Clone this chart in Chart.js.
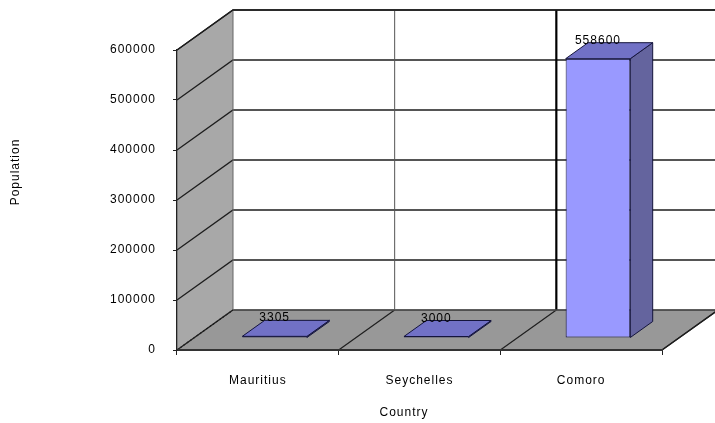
<!DOCTYPE html>
<html>
<head>
<meta charset="utf-8">
<script src="https://cdn.jsdelivr.net/npm/chart.js@4.4.1/dist/chart.umd.min.js"></script>
<style>
  html, body { margin: 0; padding: 0; background: #ffffff; }
  canvas { display: block; }
</style>
</head>
<body>
<canvas id="chart" width="715" height="423"></canvas>
<script>
// Population by country
const countries = ['Mauritius', 'Seychelles', 'Comoro'];
const population = [3305, 3000, 558600];
const populationTicks = [0, 100000, 200000, 300000, 400000, 500000, 600000];
const xTitle = 'Country';
const yTitle = 'Population';

// 3-D room geometry: offset of the back wall from the front plane
const DEPTH_X = 56, DEPTH_Y = -40;
// each bar slab starts 30% into the room and is 40% of its depth
const BAR_FRONT = 0.3, BAR_DEPTH = 0.4;
const FAMILY = '"Liberation Sans", Arial, sans-serif';

const LINE = '#1e1e1e';

function boundaries(chart) {
  const x = chart.scales.x;
  const n = countries.length;
  const cw = (x.right - x.left) / n;
  const out = [];
  for (let i = 0; i < n; i++) out.push(x.getPixelForValue(i) - cw / 2);
  out.push(x.getPixelForValue(n - 1) + cw / 2);
  return out;
}

const room3d = {
  id: 'room3d',
  beforeLayout(chart) { chart.ctx.letterSpacing = '1px'; },
  beforeDraw(chart) {
    const { ctx, chartArea: a, scales: { y } } = chart;
    ctx.letterSpacing = '1px';
    const dx = DEPTH_X, dy = DEPTH_Y;
    const b = boundaries(chart);
    ctx.save();

    // back wall
    ctx.fillStyle = '#ffffff';
    ctx.fillRect(a.left + dx, a.top + dy, a.right - a.left, a.bottom - a.top);

    // left side wall
    ctx.beginPath();
    ctx.moveTo(a.left, a.bottom);
    ctx.lineTo(a.left, a.top);
    ctx.lineTo(a.left + dx, a.top + dy);
    ctx.lineTo(a.left + dx, a.bottom + dy);
    ctx.closePath();
    ctx.fillStyle = '#a8a8a8';
    ctx.fill();

    // floor
    ctx.beginPath();
    ctx.moveTo(a.left, a.bottom);
    ctx.lineTo(a.right, a.bottom);
    ctx.lineTo(a.right + dx, a.bottom + dy);
    ctx.lineTo(a.left + dx, a.bottom + dy);
    ctx.closePath();
    ctx.fillStyle = '#989898';
    ctx.fill();

    // value grid lines on the back wall and side wall
    ctx.strokeStyle = LINE;
    ctx.lineWidth = 1.3;
    y.ticks.forEach(t => {
      const py = y.getPixelForValue(t.value);
      ctx.beginPath();
      ctx.moveTo(a.left, py);
      ctx.lineTo(a.left + dx, py + dy);
      ctx.lineTo(a.right + dx, py + dy);
      ctx.stroke();
    });

    // category dividers on the back wall and floor
    b.forEach((bx, i) => {
      if (i > 0 && i < b.length - 1) {
        ctx.beginPath();
        ctx.lineWidth = i === b.length - 2 ? 2.2 : 1;
        ctx.strokeStyle = i === b.length - 2 ? '#000' : '#555';
        ctx.moveTo(bx + dx, a.top + dy);
        ctx.lineTo(bx + dx, a.bottom + dy);
        ctx.stroke();
      }
      ctx.beginPath();
      ctx.lineWidth = 1.2;
      ctx.strokeStyle = LINE;
      ctx.setLineDash(i === 0 ? [2, 2] : []);
      ctx.moveTo(bx, a.bottom);
      ctx.lineTo(bx + dx, a.bottom + dy);
      ctx.stroke();
      ctx.setLineDash([]);
    });

    // room edges
    ctx.strokeStyle = '#666';
    ctx.lineWidth = 1;
    ctx.beginPath();
    ctx.moveTo(a.left + dx, a.top + dy);
    ctx.lineTo(a.left + dx, a.bottom + dy);
    ctx.lineTo(a.right + dx, a.bottom + dy);
    ctx.stroke();
    ctx.strokeStyle = LINE;
    ctx.lineWidth = 1.3;
    ctx.beginPath();
    ctx.moveTo(a.left, a.top);
    ctx.lineTo(a.left + dx, a.top + dy);
    ctx.lineTo(a.right + dx, a.top + dy);
    ctx.stroke();
    ctx.beginPath();
    ctx.moveTo(a.right, a.bottom);
    ctx.lineTo(a.right + dx, a.bottom + dy);
    ctx.stroke();

    ctx.restore();
  },
  beforeDatasetDraw(chart) {
    const ctx = chart.ctx;
    ctx.save();
    ctx.translate(DEPTH_X * BAR_FRONT, DEPTH_Y * BAR_FRONT);
  },
  afterDatasetDraw(chart, args) {
    const ctx = chart.ctx;
    const ddx = DEPTH_X * BAR_DEPTH, ddy = DEPTH_Y * BAR_DEPTH;
    ctx.lineWidth = 1;
    ctx.strokeStyle = '#14143c';
    ctx.lineJoin = 'round';
    args.meta.data.forEach(el => {
      const { x, y, base, width } = el.getProps(['x', 'y', 'base', 'width'], true);
      const l = x - width / 2, r = x + width / 2;
      // side face
      ctx.beginPath();
      ctx.moveTo(r, y);
      ctx.lineTo(r + ddx, y + ddy);
      ctx.lineTo(r + ddx, base + ddy);
      ctx.lineTo(r, base);
      ctx.closePath();
      ctx.fillStyle = '#64649e';
      ctx.fill();
      ctx.stroke();
      // top face
      ctx.beginPath();
      ctx.moveTo(l, y);
      ctx.lineTo(l + ddx, y + ddy);
      ctx.lineTo(r + ddx, y + ddy);
      ctx.lineTo(r, y);
      ctx.closePath();
      ctx.fillStyle = '#7171c6';
      ctx.fill();
      ctx.stroke();
    });
    ctx.restore();
  },
  afterDatasetsDraw(chart) {
    const ctx = chart.ctx;
    const meta = chart.getDatasetMeta(0);
    ctx.save();
    ctx.font = '12px ' + FAMILY;
    ctx.fillStyle = '#000';
    ctx.textAlign = 'center';
    ctx.textBaseline = 'alphabetic';
    meta.data.forEach((el, i) => {
      const { x, y } = el.getProps(['x', 'y'], true);
      const tx = x + DEPTH_X * BAR_FRONT;
      const ty = y + DEPTH_Y * (BAR_FRONT + BAR_DEPTH) + 1;
      ctx.fillText(String(population[i]), tx, ty);
    });
    ctx.restore();
  },
  afterDraw(chart) {
    const { ctx } = chart;
    ctx.save();
    ctx.font = '12px ' + FAMILY;
    ctx.fillStyle = '#000';
    ctx.textAlign = 'center';
    ctx.textBaseline = 'middle';
    ctx.fillText(xTitle, 404, 413);
    ctx.translate(16, 172);
    ctx.rotate(-Math.PI / 2);
    ctx.fillText(yTitle, 0, 0);
    ctx.restore();
  }
};

new Chart(document.getElementById('chart'), {
  type: 'bar',
  data: {
    labels: countries,
    datasets: [{
      label: yTitle,
      data: population,
      backgroundColor: '#9999ff',
      borderColor: '#14143c',
      borderWidth: 1,
      borderSkipped: false,
      barPercentage: 0.4,
      categoryPercentage: 1.0,
      clip: false
    }]
  },
  options: {
    responsive: false,
    animation: false,
    devicePixelRatio: 1,
    layout: { padding: { left: 0, top: 50, right: 53, bottom: 0 } },
    font: { family: FAMILY, size: 12 },
    plugins: {
      legend: { display: false },
      tooltip: { enabled: false },
      title: { display: false }
    },
    scales: {
      x: {
        type: 'category',
        afterFit(scale) { scale.height = 73; },
        grid: {
          offset: true,
          drawOnChartArea: false,
          drawTicks: true,
          tickLength: 5,
          color: '#222',
          lineWidth: 1
        },
        border: { display: true, color: '#333', width: 2 },
        ticks: {
          padding: 18,
          color: '#000',
          font: { family: FAMILY, size: 12 },
          maxRotation: 0
        }
      },
      y: {
        type: 'linear',
        min: 0,
        max: 600000,
        afterFit(scale) { scale.width = 177; },
        afterBuildTicks(scale) {
          scale.ticks = populationTicks.map(v => ({ value: v }));
        },
        grid: {
          drawOnChartArea: false,
          drawTicks: true,
          tickLength: 4,
          color: '#222',
          lineWidth: 1
        },
        border: { display: true, color: '#222', width: 1.3 },
        ticks: {
          padding: 17,
          color: '#000',
          font: { family: FAMILY, size: 12 },
          callback: v => String(v)
        }
      }
    }
  },
  plugins: [room3d]
});
</script>
</body>
</html>
